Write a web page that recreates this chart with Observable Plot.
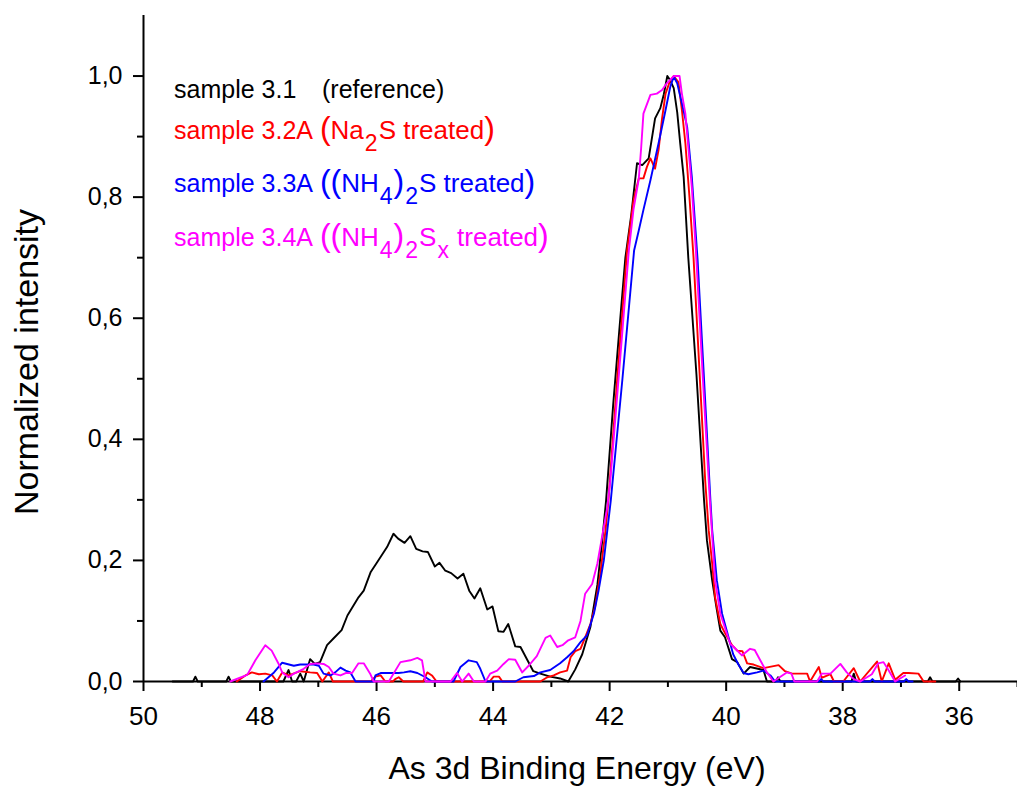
<!DOCTYPE html>
<html>
<head>
<meta charset="utf-8">
<script src="https://cdn.jsdelivr.net/npm/d3@7"></script>
<script src="https://cdn.jsdelivr.net/npm/@observablehq/plot@0.6"></script>
<style>
  html, body { margin: 0; padding: 0; background: #fff; }
</style>
</head>
<body>
<div id="chart"></div>
<script>
// ---------- data (binding energy in eV, normalized intensity) ----------
const blackE = [49.5, 49.15, 49.11, 49.07, 48.58, 48.54, 48.5, 47.6, 47.51, 47.45, 47.38, 47.31, 47.25, 47.14, 47.06, 46.97, 46.85, 46.74, 46.6, 46.5, 46.31, 46.22, 46.1, 45.99, 45.82, 45.71, 45.63, 45.52, 45.42, 45.32, 45.21, 45.12, 45.0, 44.92, 44.82, 44.72, 44.61, 44.51, 44.41, 44.32, 44.22, 44.1, 44.01, 43.91, 43.82, 43.74, 43.62, 43.53, 43.41, 43.31, 43.19, 43.02, 42.85, 42.71, 42.59, 42.47, 42.33, 42.21, 42.13, 42.06, 41.94, 41.83, 41.73, 41.63, 41.53, 41.44, 41.33, 41.22, 41.13, 41.07, 41.01, 40.96, 40.90, 40.84, 40.79, 40.73, 40.65, 40.51, 40.38, 40.33, 40.24, 40.17, 40.10, 40.02, 39.90, 39.81, 39.70, 39.59, 39.36, 39.30, 39.15, 39.11, 39.07, 37.85, 37.81, 37.77, 36.54, 36.50, 36.46, 36.06, 36.02, 35.98];
const blackI = [0, 0, 0.008, 0, 0, 0.008, 0, 0, 0.019, 0, 0, 0.013, 0, 0.037, 0.029, 0.032, 0.06, 0.071, 0.085, 0.109, 0.139, 0.150, 0.181, 0.197, 0.222, 0.244, 0.236, 0.229, 0.240, 0.219, 0.215, 0.214, 0.190, 0.196, 0.183, 0.179, 0.170, 0.178, 0.150, 0.137, 0.154, 0.119, 0.124, 0.083, 0.082, 0.095, 0.058, 0.057, 0.035, 0.017, 0.013, 0.008, 0.005, 0, 0.02, 0.045, 0.09, 0.16, 0.23, 0.30, 0.456, 0.585, 0.70, 0.77, 0.856, 0.853, 0.864, 0.93, 0.947, 0.97, 1.0, 0.993, 0.98, 0.94, 0.89, 0.834, 0.70, 0.507, 0.30, 0.233, 0.167, 0.124, 0.084, 0.073, 0.037, 0.032, 0.013, 0.024, 0.019, 0, 0, 0.007, 0, 0, 0.013, 0, 0, 0.007, 0, 0, 0.005, 0];

const redE = [48.40, 48.25, 48.14, 48.02, 47.91, 47.79, 47.71, 47.62, 47.51, 47.31, 47.14, 47.02, 46.93, 46.82, 46.75, 46.10, 46.02, 45.93, 45.85, 45.72, 45.68, 45.62, 45.54, 45.20, 45.13, 45.05, 44.97, 44.06, 43.99, 43.90, 43.84, 43.19, 43.07, 42.96, 42.85, 42.73, 42.67, 42.59, 42.50, 42.42, 42.33, 42.25, 42.16, 42.07, 42.02, 41.87, 41.70, 41.59, 41.50, 41.42, 41.36, 41.30, 41.22, 41.16, 41.10, 41.04, 40.96, 40.90, 40.82, 40.76, 40.70, 40.63, 40.56, 40.44, 40.36, 40.30, 40.24, 40.19, 40.10, 40.02, 39.90, 39.81, 39.72, 39.64, 39.53, 39.36, 39.10, 38.99, 38.87, 38.61, 38.56, 38.41, 38.36, 38.21, 38.15, 37.99, 37.81, 37.70, 37.41, 37.33, 37.21, 37.10, 36.96, 36.87, 36.70, 36.61, 36.41];
const redI = [0, 0.010, 0.015, 0.012, 0.013, 0.010, 0, 0.015, 0.010, 0.017, 0.015, 0.014, 0, 0.015, 0, 0, 0.008, 0.010, 0, 0, 0.004, 0.007, 0, 0, 0.015, 0.010, 0, 0, 0.008, 0.008, 0, 0, 0.007, 0.010, 0.015, 0.018, 0.040, 0.050, 0.054, 0.073, 0.095, 0.123, 0.178, 0.25, 0.30, 0.50, 0.712, 0.795, 0.831, 0.831, 0.850, 0.864, 0.847, 0.878, 0.930, 0.971, 0.993, 1.0, 0.99, 0.944, 0.889, 0.80, 0.70, 0.48, 0.332, 0.25, 0.195, 0.139, 0.095, 0.08, 0.06, 0.051, 0.050, 0.030, 0.028, 0.022, 0.027, 0.017, 0.013, 0.013, 0, 0.024, 0.006, 0.012, 0, 0, 0.022, 0, 0.033, 0, 0.030, 0.003, 0.014, 0.014, 0.013, 0, 0];

const blueE = [47.94, 47.76, 47.62, 47.42, 47.31, 47.19, 47.08, 46.99, 46.91, 46.79, 46.71, 46.62, 46.53, 46.45, 46.36, 46.05, 46.02, 45.93, 45.62, 45.53, 45.42, 45.30, 45.16, 45.05, 44.68, 44.56, 44.42, 44.28, 44.22, 44.13, 43.62, 43.48, 43.30, 43.19, 43.02, 42.85, 42.73, 42.62, 42.50, 42.39, 42.27, 42.19, 42.10, 41.98, 41.78, 41.58, 41.50, 41.42, 41.30, 41.16, 41.04, 40.96, 40.90, 40.84, 40.76, 40.67, 40.59, 40.53, 40.49, 40.38, 40.27, 40.24, 40.16, 40.07, 39.99, 39.88, 39.79, 39.70, 39.62, 39.47, 39.36, 39.24, 39.16, 38.41, 38.37, 38.33, 37.53, 37.49, 37.45, 36.95, 36.91, 36.87, 36.80];
const blueI = [0, 0.015, 0.031, 0.026, 0.028, 0.028, 0.028, 0.026, 0.013, 0.010, 0.015, 0.023, 0.018, 0.015, 0, 0, 0.010, 0.014, 0.014, 0.015, 0.017, 0.014, 0.007, 0, 0, 0.024, 0.035, 0.032, 0.021, 0, 0, 0.007, 0.009, 0.015, 0.019, 0.030, 0.040, 0.050, 0.065, 0.076, 0.112, 0.150, 0.200, 0.299, 0.50, 0.712, 0.745, 0.779, 0.828, 0.889, 0.944, 0.982, 0.999, 0.988, 0.955, 0.916, 0.834, 0.751, 0.696, 0.50, 0.299, 0.25, 0.167, 0.112, 0.084, 0.045, 0.028, 0.014, 0.012, 0.015, 0.018, 0.010, 0, 0, 0.004, 0, 0, 0.004, 0, 0, 0.004, 0, 0];

const magentaE = [48.51, 48.22, 48.08, 47.91, 47.80, 47.68, 47.62, 47.51, 47.42, 47.25, 47.14, 47.02, 46.91, 46.82, 46.74, 46.62, 46.53, 46.42, 46.31, 46.22, 46.11, 46.05, 45.79, 45.59, 45.42, 45.30, 45.22, 45.16, 44.73, 44.62, 44.53, 44.42, 44.33, 44.13, 44.05, 43.93, 43.82, 43.73, 43.62, 43.50, 43.39, 43.25, 43.10, 43.02, 42.90, 42.81, 42.71, 42.59, 42.50, 42.42, 42.30, 42.21, 42.13, 42.04, 41.99, 41.83, 41.67, 41.59, 41.50, 41.46, 41.42, 41.30, 41.19, 41.10, 41.02, 40.90, 40.80, 40.76, 40.70, 40.65, 40.59, 40.52, 40.40, 40.28, 40.19, 40.10, 39.93, 39.87, 39.73, 39.59, 39.51, 39.42, 39.30, 39.19, 38.96, 38.88, 38.83, 38.44, 38.36, 38.21, 38.04, 37.93, 37.81, 37.70, 37.50, 37.39, 37.30, 37.21, 37.10, 36.93];
const magentaI = [0, 0.011, 0.035, 0.060, 0.051, 0.029, 0.015, 0.007, 0.013, 0.021, 0.029, 0.030, 0.029, 0.024, 0.013, 0.010, 0.014, 0.014, 0.030, 0.030, 0.013, 0, 0, 0.032, 0.035, 0.039, 0.035, 0, 0, 0.014, 0, 0.013, 0, 0, 0.013, 0.018, 0.029, 0.037, 0.036, 0.015, 0.026, 0.042, 0.072, 0.076, 0.057, 0.060, 0.068, 0.073, 0.100, 0.145, 0.161, 0.195, 0.239, 0.288, 0.330, 0.52, 0.712, 0.78, 0.83, 0.88, 0.938, 0.969, 0.971, 0.977, 0.988, 1.0, 1.0, 0.971, 0.938, 0.883, 0.817, 0.712, 0.50, 0.30, 0.167, 0.112, 0.062, 0.057, 0.043, 0.054, 0.052, 0.036, 0.015, 0, 0.015, 0.013, 0, 0, 0.013, 0.013, 0.029, 0.015, 0.004, 0, 0.012, 0.030, 0.032, 0.018, 0, 0.010];

const seriesNames = ["sample 3.1", "sample 3.2A", "sample 3.3A", "sample 3.4A"];
const treatments = ["(reference)", "(Na_{2}S treated)", "((NH_{4})_{2}S treated)", "((NH_{4})_{2}S_{x} treated)"];
const seriesColors = ["#000000", "#ff0000", "#0000ff", "#ff00ff"];

const xMajorTicks = [50, 48, 46, 44, 42, 40, 38, 36];
const xMinorTicks = [49, 47, 45, 43, 41, 39, 37, 35];
const yMajorTicks = [0, 0.2, 0.4, 0.6, 0.8, 1.0];
const yMinorTicks = [0.1, 0.3, 0.5, 0.7, 0.9];
const xTitle = "As 3d Binding Energy (eV)";
const yTitle = "Normalized intensity";

// ---------- build ----------
const FONT = "'Liberation Sans', Arial, Helvetica, sans-serif";
const seriesData = [
  [blackE, blackI], [redE, redI], [blueE, blueI], [magentaE, magentaI]
].map(([E, I], k) => E.map((e, i) => ({E: e, I: I[i], name: seriesNames[k]})));

const plot = Plot.plot({
  width: 1017,
  height: 788,
  marginLeft: 143,
  marginRight: 0,
  marginTop: 15,
  marginBottom: 107,
  x: {domain: [50, 35]},
  y: {domain: [0, 1.1]},
  style: {fontFamily: FONT, background: "#ffffff", color: "#000000", overflow: "visible"},
  marks: [
    Plot.axisX(xMajorTicks, {tickSize: 10, tickPadding: 15, fontSize: 26, strokeWidth: 2, label: null, tickFormat: d => String(d)}),
    Plot.axisX(xMinorTicks, {tickSize: 6, strokeWidth: 2, fill: "none", label: null}),
    Plot.axisY(yMajorTicks, {tickSize: 10, tickPadding: 11, fontSize: 25, strokeWidth: 2, label: null, tickFormat: d => d.toFixed(1).replace(".", ",")}),
    Plot.axisY(yMinorTicks, {tickSize: 6, strokeWidth: 2, fill: "none", label: null}),
    Plot.ruleY([0], {stroke: "#000", strokeWidth: 2}),
    Plot.ruleX([50], {stroke: "#000", strokeWidth: 2}),
    ...seriesData.map((d, k) => Plot.line(d, {x: "E", y: "I", stroke: seriesColors[k], strokeWidth: 1.9}))
  ]
});
document.getElementById("chart").appendChild(plot);

// ---------- titles and in-plot legend ----------
const svg = d3.select(plot);
svg.append("text")
  .attr("x", 577).attr("y", 779)
  .attr("text-anchor", "middle")
  .attr("font-family", FONT).attr("font-size", 32).attr("fill", "#000")
  .text(xTitle);
svg.append("text")
  .attr("transform", "translate(38,362) rotate(-90)")
  .attr("text-anchor", "middle")
  .attr("font-family", FONT).attr("font-size", 34).attr("fill", "#000")
  .text(yTitle);

const legendBaselines = [98, 138.5, 192, 245.5];
const legend = svg.append("g")
  .attr("font-family", FONT).attr("font-size", 25)
  .attr("text-anchor", "start");
seriesNames.forEach((name, k) => {
  const t = legend.append("text")
    .attr("x", 174).attr("y", legendBaselines[k])
    .attr("text-anchor", "start")
    .attr("fill", seriesColors[k]);
  t.append("tspan").text(name);
  if (k === 0) {
    t.append("tspan").attr("x", 322).text(treatments[k]);
    return;
  }
  t.append("tspan").text("\u00a0");
  const tokens = treatments[k].match(/_\{[^}]*\}|[()]|[^()_]+/g);
  let shifted = false;
  const SUB = 12;
  for (const tok of tokens) {
    const ts = t.append("tspan");
    if (tok.startsWith("_{")) {
      ts.text(tok.slice(2, -1)).attr("font-size", 23).attr("dx", 1).attr("dy", shifted ? 0 : SUB);
      shifted = true;
    } else {
      if (shifted) ts.attr("dy", -SUB).attr("dx", 1);
      shifted = false;
      ts.attr("font-size", (tok === "(" || tok === ")") ? 32 : 26);
      ts.text(tok.replace(/ /g, "\u00a0"));
    }
  }
});
</script>
</body>
</html>
